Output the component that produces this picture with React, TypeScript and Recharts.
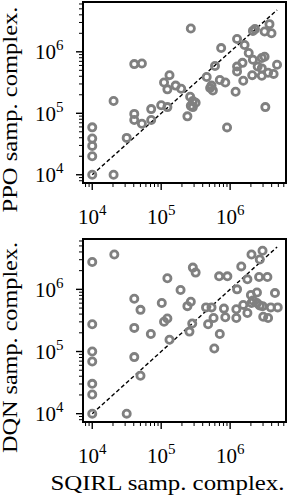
import React from 'react';
import * as R from 'recharts';
import { ScatterChart, Scatter, XAxis, YAxis, ReferenceLine } from 'recharts';

// ---- data ----
const sqirlVsPpo = [10000, 10000, 10000, 10000, 10000, 20400, 20400, 31600, 40700, 52500, 40700, 40700, 52500, 71600, 71600, 100000, 123000, 110000, 123000, 132000, 162000, 195000, 269000, 240000, 263000, 288000, 316000, 269000, 288000, 457000, 603000, 513000, 562000, 537000, 741000, 708000, 851000, 902000, 1260000, 1200000, 1260000, 1260000, 1510000, 1550000, 1620000, 1860000, 2140000, 2090000, 2290000, 2140000, 2510000, 2880000, 3160000, 2880000, 2880000, 3160000, 3720000, 3980000, 3240000, 3550000, 4270000, 4790000];
const ppo = [10000, 20000, 29500, 39000, 59000, 10000, 158000, 39800, 631000, 646000, 97700, 77600, 67600, 117000, 77600, 135000, 126000, 316000, 245000, 417000, 282000, 251000, 2400000, 89100, 186000, 158000, 148000, 132000, 126000, 389000, 589000, 257000, 234000, 282000, 1150000, 347000, 316000, 58900, 1620000, 224000, 479000, 575000, 661000, 339000, 1290000, 955000, 741000, 417000, 2340000, 2190000, 575000, 794000, 832000, 537000, 407000, 2140000, 2820000, 2000000, 126000, 457000, 437000, 617000];

const sqirlVsDqn = [10000, 10000, 10000, 10000, 10000, 10000, 10000, 20900, 31600, 40700, 50100, 40700, 40700, 50100, 70800, 102000, 110000, 123000, 123000, 132000, 191000, 240000, 269000, 257000, 282000, 288000, 316000, 447000, 479000, 537000, 575000, 589000, 708000, 692000, 912000, 813000, 851000, 1230000, 1230000, 1260000, 1450000, 1550000, 1780000, 1780000, 2000000, 2040000, 2040000, 2140000, 2450000, 2450000, 2690000, 2950000, 2630000, 2950000, 3020000, 3550000, 3470000, 3890000, 4470000, 4900000, 2690000];
const dqn = [10000, 20400, 30200, 69200, 100000, 275000, 2750000, 3630000, 10000, 708000, 468000, 240000, 81300, 40700, 191000, 603000, 302000, 339000, 1510000, 155000, 977000, 537000, 631000, 209000, 282000, 2240000, 1860000, 513000, 275000, 513000, 347000, 112000, 191000, 1620000, 1620000, 490000, 355000, 479000, 347000, 1000000, 2340000, 562000, 417000, 1450000, 813000, 3630000, 603000, 661000, 891000, 603000, 3020000, 4170000, 1580000, 537000, 363000, 347000, 1580000, 513000, 871000, 513000, 550000];

const axisDomain = [7345, 6460000];
const diagonalEnds = [10000, 4800000];
const majorTicks = [10000, 100000, 1000000];
const majorTickExponents = ['4', '5', '6'];
const minorTicks = [8000, 9000, 20000, 30000, 40000, 50000, 60000, 70000, 80000, 90000, 200000, 300000, 400000, 500000, 600000, 700000, 800000, 900000, 2000000, 3000000, 4000000, 5000000, 6000000];
const allTicks = [...majorTicks, ...minorTicks].sort((a, b) => a - b);

const xTitle = 'SQIRL samp. complex.';
const yTitles = ['PPO samp. complex.', 'DQN samp. complex.'];

const FONT = '"Liberation Serif", "Times New Roman", serif';
const CHART_W = 290;
const Y_AXIS_W = 83;
const RIGHT_M = 4;
const FRAME_W = 2;

function XTick(props: any) {
  const { x, y, payload } = props;
  const idx = majorTicks.indexOf(payload.value);
  const major = idx >= 0;
  return (
    <g>
      <line x1={x} x2={x} y1={y} y2={y + (major ? 7 : 4)} stroke="#000" strokeWidth={major ? 1.4 : 1} />
      {major && (
        <text x={x} y={y + 41} textAnchor="middle" fontFamily={FONT} fontSize={21} fill="#000">
          10<tspan dy={-9} fontSize={15}>{majorTickExponents[idx]}</tspan>
        </text>
      )}
    </g>
  );
}

function YTick(props: any) {
  const { x, y, payload } = props;
  const idx = majorTicks.indexOf(payload.value);
  const major = idx >= 0;
  return (
    <g>
      <line x1={x - (major ? 7 : 4)} x2={x} y1={y} y2={y} stroke="#000" strokeWidth={major ? 1.4 : 1} />
      {major && (
        <text x={x - 19.5} y={y + 7.5} textAnchor="end" fontFamily={FONT} fontSize={21} fill="#000">
          10<tspan dy={-9} fontSize={15}>{majorTickExponents[idx]}</tspan>
        </text>
      )}
    </g>
  );
}

function Ring(props: any) {
  const { cx, cy } = props;
  if (cx == null || cy == null) return null;
  return <circle cx={cx} cy={cy} r={3.6} fill="none" stroke="#808080" strokeWidth={2.8} />;
}

// Box around the plotting area.
function Frame() {
  const pa = (R as any).usePlotArea ? (R as any).usePlotArea() : null;
  if (!pa) return null;
  return (
    <g>
      <line x1={pa.x} x2={pa.x + pa.width} y1={pa.y} y2={pa.y} stroke="#000" strokeWidth={FRAME_W} />
      <line x1={pa.x} x2={pa.x + pa.width} y1={pa.y + pa.height} y2={pa.y + pa.height} stroke="#000" strokeWidth={FRAME_W} />
      <line x1={pa.x} x2={pa.x} y1={pa.y} y2={pa.y + pa.height} stroke="#000" strokeWidth={FRAME_W} />
      <line x1={pa.x + pa.width} x2={pa.x + pa.width} y1={pa.y} y2={pa.y + pa.height} stroke="#000" strokeWidth={FRAME_W} />
    </g>
  );
}

function Panel({ xs, ys, height, top, xAxisHeight, yTitle, yTitleLen, showXTitle }: any) {
  const data = xs.map((x: number, i: number) => ({ x, y: ys[i] }));
  const plotW = CHART_W - Y_AXIS_W - RIGHT_M;
  const plotH = height - top - xAxisHeight;
  const xLabel = showXTitle
    ? (p: any) => {
        const vb = p.viewBox || { x: Y_AXIS_W, y: top + plotH, width: plotW, height: xAxisHeight };
        return (
          <text x={vb.x + vb.width / 2 - 17} y={vb.y + 68} textAnchor="middle" fontFamily={FONT} fontSize={21} fill="#000" textLength={234} lengthAdjust="spacingAndGlyphs">
            {xTitle}
          </text>
        );
      }
    : undefined;
  const yLabel = (p: any) => {
    const vb = p.viewBox || { x: 0, y: top, width: Y_AXIS_W, height: plotH };
    const cx = 16.5;
    const cy = vb.y + vb.height / 2 + 17;
    return (
      <text x={cx} y={cy} transform={`rotate(-90, ${cx}, ${cy})`} textAnchor="middle" fontFamily={FONT} fontSize={20.5} fill="#000" textLength={yTitleLen} lengthAdjust="spacingAndGlyphs">
        {yTitle}
      </text>
    );
  };
  return (
    <div style={{ position: 'relative', width: CHART_W, height }}>
      <ScatterChart width={CHART_W} height={height} margin={{ top, right: RIGHT_M, bottom: 0, left: 0 }}>
        <XAxis
          type="number"
          dataKey="x"
          scale="log"
          domain={axisDomain}
          allowDataOverflow
          ticks={allTicks}
          interval={0}
          tick={(p: any) => <XTick {...p} />}
          tickLine={false}
          tickSize={0}
          tickMargin={0}
          axisLine={{ stroke: '#000', strokeWidth: FRAME_W }}
          height={xAxisHeight}
          label={xLabel ? { content: xLabel } : undefined}
        />
        <YAxis
          type="number"
          dataKey="y"
          scale="log"
          domain={axisDomain}
          allowDataOverflow
          ticks={allTicks}
          interval={0}
          tick={(p: any) => <YTick {...p} />}
          tickLine={false}
          tickSize={0}
          tickMargin={0}
          axisLine={{ stroke: '#000', strokeWidth: FRAME_W }}
          width={Y_AXIS_W}
          label={{ content: yLabel }}
        />
        <Scatter data={data} isAnimationActive={false} shape={(p: any) => <Ring {...p} />} />
        <ReferenceLine
          segment={[{ x: diagonalEnds[0], y: diagonalEnds[0] }, { x: diagonalEnds[1], y: diagonalEnds[1] }]}
          stroke="#000"
          strokeWidth={1.4}
          strokeDasharray="4 2.5"
          ifOverflow="visible"
        />
        <Frame />
      </ScatterChart>
      <div
        style={{
          position: 'absolute',
          left: Y_AXIS_W - FRAME_W / 2,
          top: top - FRAME_W / 2,
          width: plotW + FRAME_W,
          height: plotH + FRAME_W,
          borderStyle: 'solid',
          borderColor: '#000',
          borderWidth: FRAME_W,
          boxSizing: 'border-box',
          pointerEvents: 'none',
        }}
      />
    </div>
  );
}

export default function App() {
  return (
    <div style={{ position: 'absolute', left: 0, top: 0, width: 290, height: 500, background: '#fff' }}>
      <Panel xs={sqirlVsPpo} ys={ppo} height={236} top={2} xAxisHeight={53} yTitle={yTitles[0]} yTitleLen={206} showXTitle={false} />
      <Panel xs={sqirlVsDqn} ys={dqn} height={264} top={3} xAxisHeight={78} yTitle={yTitles[1]} yTitleLen={211} showXTitle={true} />
    </div>
  );
}
